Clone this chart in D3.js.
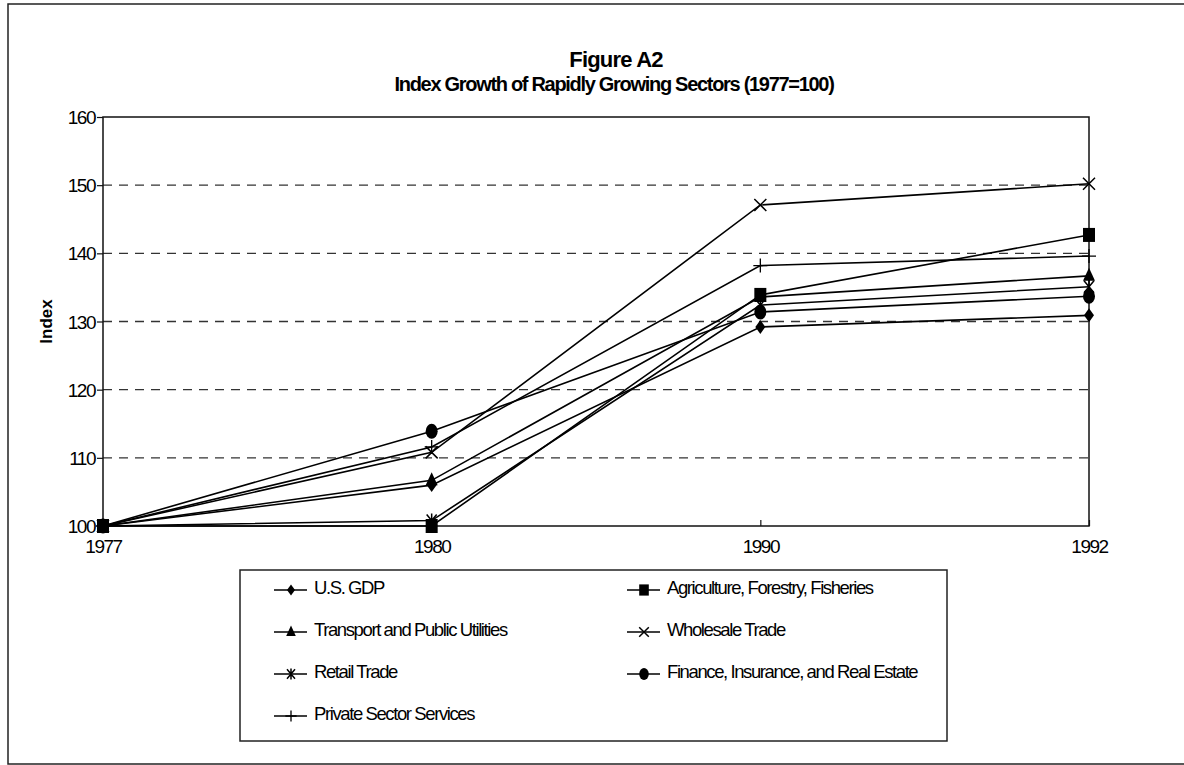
<!DOCTYPE html>
<html>
<head>
<meta charset="utf-8">
<script src="https://cdn.jsdelivr.net/npm/d3@7"></script>
<style>
    body { margin: 0; background: #fff; }
    text { font-family: "Liberation Sans Narrow", "Arial Narrow", "Liberation Sans", Arial, sans-serif; fill: #000; }
</style>
</head>
<body>
<svg id="chart" width="1184" height="765"></svg>
<script>
var width = 1184
var height = 765
var margin = { top: 117, right: 95, bottom: 239, left: 103 }

// data
var years = ["1977", "1980", "1990", "1992"]
var yTicks = [100, 110, 120, 130, 140, 150, 160]
var seriesNames = [
    "U.S. GDP",
    "Agriculture, Forestry, Fisheries",
    "Transport and Public Utilities",
    "Wholesale Trade",
    "Retail Trade",
    "Finance, Insurance, and Real Estate",
    "Private Sector Services"
]
var gdp = [100, 106.0, 129.2, 130.9]
var agriculture = [100, 100.0, 133.9, 142.7]
var transport = [100, 106.7, 133.6, 136.7]
var wholesale = [100, 110.8, 147.1, 150.2]
var retail = [100, 100.8, 132.4, 135.1]
var finance = [100, 113.9, 131.4, 133.7]
var privateServices = [100, 111.6, 138.2, 139.6]
var seriesValues = [gdp, agriculture, transport, wholesale, retail, finance, privateServices]
var markers = ["diamond", "square", "triangle", "x", "asterisk", "circle", "plus"]

var svg = d3.select("#chart")

// outer frame
svg.append("rect")
    .attr("x", 8).attr("y", 4)
    .attr("width", 1190).attr("height", 760)
    .attr("fill", "none").attr("stroke", "#222").attr("stroke-width", 1.5)

var xScale = d3.scalePoint()
    .domain(years)
    .range([margin.left, width - margin.right])

var yScale = d3.scaleLinear()
    .domain([100, 160])
    .range([height - margin.bottom, margin.top])

// gridlines
svg.append("g")
    .selectAll("line")
    .data(yTicks.filter(function (d) { return d > 100 && d < 160 }))
    .enter().append("line")
    .attr("x1", margin.left).attr("x2", width - margin.right)
    .attr("y1", function (d) { return yScale(d) })
    .attr("y2", function (d) { return yScale(d) })
    .attr("stroke", "#333").attr("stroke-width", 1.3)
    .attr("stroke-dasharray", "9,7")

// plot frame
svg.append("rect")
    .attr("x", margin.left).attr("y", margin.top)
    .attr("width", width - margin.right - margin.left)
    .attr("height", height - margin.bottom - margin.top)
    .attr("fill", "none").attr("stroke", "#111").attr("stroke-width", 1.5)

// axes
var yAxis = d3.axisLeft(yScale).tickValues(yTicks).tickSize(6).tickPadding(2)
var xAxis = d3.axisBottom(xScale).tickSize(-6).tickPadding(14)

svg.append("g")
    .attr("class", "yAxis")
    .attr("transform", "translate(" + margin.left + ",0)")
    .call(yAxis)
svg.append("g")
    .attr("class", "xAxis")
    .attr("transform", "translate(0," + (height - margin.bottom) + ")")
    .call(xAxis)

svg.selectAll(".yAxis .domain, .xAxis .domain").remove()
svg.selectAll(".yAxis .tick line, .xAxis .tick line").attr("stroke", "#111").attr("stroke-width", 1.2)
svg.selectAll(".yAxis text, .xAxis text")
    .style("font-size", "19px")
    .style("letter-spacing", "-1.5px")
    .attr("fill", "#000")
svg.selectAll(".yAxis text").attr("dy", "0.35em")

// titles
svg.append("text")
    .attr("x", 616).attr("y", 67)
    .attr("text-anchor", "middle")
    .style("font-size", "22px").style("font-weight", "bold").style("letter-spacing", "-0.8px")
    .text("Figure A2")
svg.append("text")
    .attr("x", 614).attr("y", 91)
    .attr("text-anchor", "middle")
    .style("font-size", "20px").style("font-weight", "bold").style("letter-spacing", "-1.3px")
    .text("Index Growth of Rapidly Growing Sectors (1977=100)")
svg.append("text")
    .attr("transform", "translate(52," + ((margin.top + height - margin.bottom) / 2) + ") rotate(-90)")
    .attr("text-anchor", "middle")
    .style("font-family", "'Liberation Sans', Arial, sans-serif")
    .style("font-size", "17px").style("font-weight", "bold")
    .text("Index")

// marker drawing
function drawMarker(g, type, x, y, k) {
    k = k || 1
    if (type === "diamond") {
        g.append("path").attr("d", "M" + x + "," + (y - 7 * k) + "L" + (x + 5 * k) + "," + y + "L" + x + "," + (y + 7 * k) + "L" + (x - 5 * k) + "," + y + "Z")
            .attr("fill", "#000")
    } else if (type === "square") {
        g.append("rect").attr("x", x - 6 * k).attr("y", y - 7 * k).attr("width", 12 * k).attr("height", 14 * k).attr("fill", "#000")
    } else if (type === "triangle") {
        g.append("path").attr("d", "M" + x + "," + (y - 8 * k) + "L" + (x + 6 * k) + "," + (y + 5 * k) + "L" + (x - 6 * k) + "," + (y + 5 * k) + "Z")
            .attr("fill", "#000")
    } else if (type === "x") {
        g.append("path").attr("d", "M" + (x - 6 * k) + "," + (y - 6 * k) + "L" + (x + 6 * k) + "," + (y + 6 * k) + "M" + (x - 6 * k) + "," + (y + 6 * k) + "L" + (x + 6 * k) + "," + (y - 6 * k))
            .attr("stroke", "#000").attr("stroke-width", 1.5)
    } else if (type === "asterisk") {
        g.append("path").attr("d", "M" + (x - 5 * k) + "," + (y - 6 * k) + "L" + (x + 5 * k) + "," + (y + 6 * k) + "M" + (x - 5 * k) + "," + (y + 6 * k) + "L" + (x + 5 * k) + "," + (y - 6 * k) + "M" + x + "," + (y - 7 * k) + "L" + x + "," + (y + 7 * k))
            .attr("stroke", "#000").attr("stroke-width", 1.5)
    } else if (type === "circle") {
        g.append("ellipse").attr("cx", x).attr("cy", y).attr("rx", 6 * k).attr("ry", 7.5 * k).attr("fill", "#000")
    } else if (type === "plus") {
        g.append("path").attr("d", "M" + x + "," + (y - 7 * k) + "L" + x + "," + (y + 7 * k) + "M" + (x - 7 * k) + "," + y + "L" + (x + 7 * k) + "," + y)
            .attr("stroke", "#000").attr("stroke-width", 1.3)
    }
}

var line = d3.line()
    .x(function (d, i) { return xScale(years[i]) })
    .y(function (d) { return yScale(d) })

var seriesG = svg.append("g")
seriesValues.forEach(function (vals) {
    seriesG.append("path")
        .attr("d", line(vals))
        .attr("fill", "none")
        .attr("stroke", "#000")
        .attr("stroke-width", 1.6)
})
seriesValues.forEach(function (vals, s) {
    var mg = seriesG.append("g")
    vals.forEach(function (v, i) {
        drawMarker(mg, markers[s], xScale(years[i]), yScale(v))
    })
})

// legend
var legend = svg.append("g").attr("class", "legend")
legend.append("rect")
    .attr("x", 240).attr("y", 570)
    .attr("width", 707).attr("height", 171)
    .attr("fill", "none").attr("stroke", "#222").attr("stroke-width", 1.5)

var legendCols = [274, 627]
var legendRows = [588, 630, 672, 714]
seriesNames.forEach(function (name, i) {
    var lx = legendCols[i % 2]
    var ly = legendRows[Math.floor(i / 2)]
    var item = legend.append("g")
    item.append("line")
        .attr("x1", lx).attr("x2", lx + 33)
        .attr("y1", ly + 2).attr("y2", ly + 2)
        .attr("stroke", "#000").attr("stroke-width", 1.6)
    drawMarker(item, markers[i], lx + 17, ly + 2, 0.8)
    item.append("text")
        .attr("x", lx + 40).attr("y", ly)
        .attr("dy", "0.35em")
        .style("font-size", "18.5px").style("letter-spacing", "-1.4px")
        .text(name)
})
</script>
</body>
</html>
